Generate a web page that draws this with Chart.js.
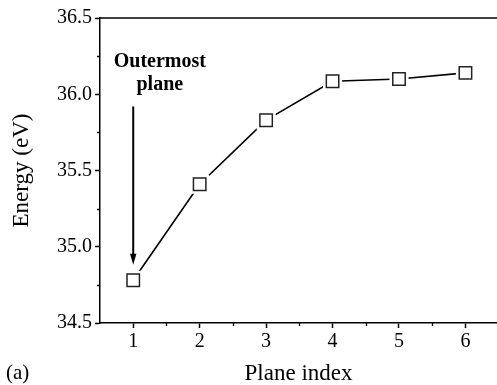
<!DOCTYPE html>
<html>
<head>
<meta charset="utf-8">
<script src="https://cdn.jsdelivr.net/npm/chart.js@4/dist/chart.umd.min.js"></script>
<style>
html,body{margin:0;padding:0;background:#fff;}
canvas{display:block;}
</style>
</head>
<body>
<canvas id="c" width="497" height="385"></canvas>
<script>
const planes = [1, 2, 3, 4, 5, 6];
const energy = [34.78, 35.41, 35.83, 36.085, 36.10, 36.14];
const xTicks = [1, 2, 3, 4, 5, 6];
const xMinorTicks = [1.5, 2.5, 3.5, 4.5, 5.5];
const yTicks = [34.5, 35.0, 35.5, 36.0, 36.5];
const yMinorTicks = [34.75, 35.25, 35.75, 36.25];
const annotationLines = ['Outermost', 'plane'];
const panelLabel = '(a)';

const SERIF = "'Liberation Serif','Times New Roman',Times,serif";
const pts = planes.map((p, i) => ({x: p, y: energy[i]}));

const decor = {
  id: 'decor',
  afterDraw(chart) {
    const ctx = chart.ctx;
    const xs = chart.scales.x, ys = chart.scales.y;
    const ca = chart.chartArea;
    ctx.save();
    ctx.strokeStyle = '#000';
    // top frame line
    ctx.lineWidth = 1.5;
    ctx.beginPath();
    ctx.moveTo(ca.left, ca.top);
    ctx.lineTo(ca.right, ca.top);
    ctx.stroke();
    // minor ticks
    ctx.lineWidth = 1.3;
    ctx.beginPath();
    xMinorTicks.forEach(v => {
      const px = Math.round(xs.getPixelForValue(v)) + 0.5;
      ctx.moveTo(px, ca.bottom);
      ctx.lineTo(px, ca.bottom + 3);
    });
    yMinorTicks.forEach(v => {
      const py = Math.round(ys.getPixelForValue(v)) + 0.5;
      ctx.moveTo(ca.left, py);
      ctx.lineTo(ca.left - 3, py);
    });
    ctx.stroke();
    // annotation arrow
    const ax = xs.getPixelForValue(1);
    const y0 = ys.getPixelForValue(35.92);
    const y1 = ys.getPixelForValue(34.882);
    ctx.lineWidth = 2;
    ctx.beginPath();
    ctx.moveTo(ax, y0);
    ctx.lineTo(ax, y1 - 8);
    ctx.stroke();
    ctx.fillStyle = '#000';
    ctx.beginPath();
    ctx.moveTo(ax, y1);
    ctx.lineTo(ax - 3.2, y1 - 11);
    ctx.lineTo(ax + 3.2, y1 - 11);
    ctx.closePath();
    ctx.fill();
    // annotation text
    ctx.font = 'bold 20px ' + SERIF;
    ctx.textAlign = 'center';
    ctx.textBaseline = 'alphabetic';
    const tx = xs.getPixelForValue(1.4);
    ctx.fillText(annotationLines[0], tx, ys.getPixelForValue(36.18));
    ctx.fillText(annotationLines[1], tx, ys.getPixelForValue(36.027));
    // panel label
    ctx.font = '21px ' + SERIF;
    ctx.textAlign = 'left';
    ctx.fillText(panelLabel, 6, 379);
    ctx.restore();
  }
};

new Chart(document.getElementById('c'), {
  type: 'line',
  data: {
    datasets: [
      {
        data: pts,
        borderColor: '#000',
        borderWidth: 1.6,
        pointRadius: 0,
        fill: false,
        tension: 0,
        clip: false,
        order: 3
      },
      {
        data: pts,
        showLine: false,
        pointStyle: 'rect',
        pointRadius: 13.5,
        pointBackgroundColor: '#fff',
        pointBorderColor: '#fff',
        pointBorderWidth: 0,
        clip: false,
        order: 2
      },
      {
        data: pts,
        showLine: false,
        pointStyle: 'rect',
        pointRadius: 8.8,
        pointBackgroundColor: '#fff',
        pointBorderColor: '#222',
        pointBorderWidth: 1.5,
        clip: false,
        order: 1
      }
    ]
  },
  options: {
    responsive: false,
    animation: false,
    devicePixelRatio: 1,
    layout: {autoPadding: false, padding: {top: 18, right: 0, left: 0, bottom: 0}},
    plugins: {legend: {display: false}, tooltip: {enabled: false}},
    scales: {
      x: {
        type: 'linear',
        min: 0.5,
        max: 6.475,
        afterBuildTicks: s => { s.ticks = xTicks.map(v => ({value: v})); },
        afterFit: s => { s.height = 62; s.paddingLeft = 0; s.paddingRight = 0; },
        grid: {display: true, drawOnChartArea: false, drawTicks: true, tickLength: 5, tickWidth: 1.5, tickColor: '#000'},
        border: {display: true, color: '#000', width: 1.5},
        ticks: {
          color: '#000',
          padding: 2,
          maxRotation: 0,
          font: {family: SERIF, size: 20},
          callback: v => String(v)
        },
        title: {
          display: true,
          text: 'Plane index',
          color: '#000',
          font: {family: SERIF, size: 23, lineHeight: 1},
          padding: {top: 0, bottom: 0}
        }
      },
      y: {
        type: 'linear',
        min: 34.5,
        max: 36.5,
        afterBuildTicks: s => { s.ticks = yTicks.map(v => ({value: v})); },
        afterFit: s => { s.width = 100; s.paddingTop = 0; s.paddingBottom = 0; },
        grid: {display: true, drawOnChartArea: false, drawTicks: true, tickLength: 5, tickWidth: 1.5, tickColor: '#000'},
        border: {display: true, color: '#000', width: 1.5},
        ticks: {
          color: '#000',
          padding: 3,
          font: {family: SERIF, size: 20},
          callback: v => Number(v).toFixed(1)
        },
        title: {
          display: true,
          text: 'Energy (eV)',
          color: '#000',
          font: {family: SERIF, size: 23, lineHeight: 1},
          padding: {top: 10, bottom: 0}
        }
      }
    }
  },
  plugins: [decor]
});
</script>
</body>
</html>
